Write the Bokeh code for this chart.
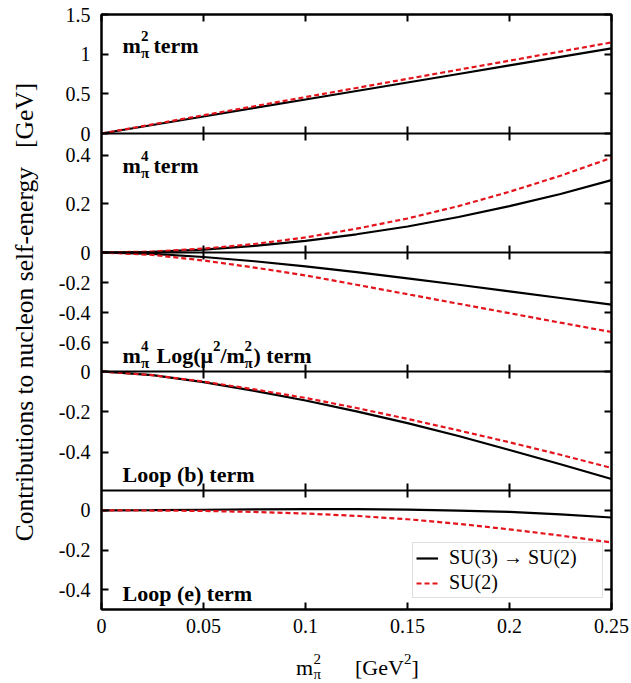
import math
from bokeh.plotting import figure
from bokeh.layouts import column
from bokeh.models import Range1d, LinearAxis, FixedTicker, Span, Label, Legend, LegendItem, Div
from bokeh.embed import file_html
from bokeh.resources import INLINE

# ---------------- data ----------------
mpi2 = [0.0, 0.025, 0.05, 0.075, 0.1, 0.125, 0.15, 0.175, 0.2, 0.225, 0.25]

m2_su3 = [0.0, 0.107, 0.214, 0.322, 0.429, 0.536, 0.643, 0.750, 0.858, 0.965, 1.072]
m2_su2 = [0.0, 0.115, 0.230, 0.344, 0.459, 0.574, 0.689, 0.804, 0.918, 1.033, 1.148]
m4_su3 = [0.0, 0.003, 0.012, 0.027, 0.048, 0.075, 0.107, 0.146, 0.191, 0.241, 0.298]
m4_su2 = [0.0, 0.004, 0.016, 0.035, 0.062, 0.098, 0.140, 0.191, 0.250, 0.316, 0.390]
m4log_su3 = [0.0, -0.009, -0.030, -0.058, -0.092, -0.130, -0.172, -0.214, -0.258, -0.302, -0.346]
m4log_su2 = [0.0, -0.016, -0.053, -0.100, -0.152, -0.214, -0.277, -0.340, -0.403, -0.466, -0.528]
loopb_su3 = [0.0, -0.018, -0.053, -0.096, -0.144, -0.198, -0.256, -0.320, -0.389, -0.460, -0.533]
loopb_su2 = [0.0, -0.018, -0.050, -0.089, -0.131, -0.181, -0.235, -0.292, -0.351, -0.413, -0.478]
loope_su3 = [0.0, 0.001, 0.003, 0.005, 0.006, 0.006, 0.004, -0.001, -0.008, -0.020, -0.036]
loope_su2 = [0.0, -0.001, -0.003, -0.008, -0.016, -0.028, -0.045, -0.068, -0.096, -0.127, -0.162]

series_labels = ["SU(3) \u2192 SU(2)", "SU(2)"]

x_ticks = [0.0, 0.05, 0.1, 0.15, 0.2, 0.25]
x_tick_labels = ["0", "0.05", "0.1", "0.15", "0.2", "0.25"]

panel_names = ["m2", "m4", "m4log", "loopb", "loope"]
panel_limits = [(0.0, 1.5), (0.0, 0.49), (-0.79, 0.0), (-0.59, 0.0), (-0.5, 0.1)]
panel_ticks = [[0.0, 0.5, 1.0, 1.5], [0.2, 0.4], [0.0, -0.2, -0.4, -0.6],
               [0.0, -0.2, -0.4], [0.0, -0.2, -0.4]]
panel_tick_labels = [["0", "0.5", "1", "1.5"], ["0.2", "0.4"], ["0", "-0.2", "-0.4", "-0.6"],
                     ["0", "-0.2", "-0.4"], ["0", "-0.2", "-0.4"]]
panel_su3 = [m2_su3, m4_su3, m4log_su3, loopb_su3, loope_su3]
panel_su2 = [m2_su2, m4_su2, m4log_su2, loopb_su2, loope_su2]

# ---------------- layout / style ----------------
W = 631
H_MAIN, H_TITLE = 646, 36
FL, FR, FT, FB = 101, 20, 14, 37
NP = len(panel_names)
FONT = "Liberation Serif"
RED = "#e3141b"

p = figure(width=W, height=H_MAIN, x_range=Range1d(0, 0.25), y_range=Range1d(0, NP),
           output_backend="svg", toolbar_location=None,
           x_axis_location=None, y_axis_location=None,
           min_border_left=FL, min_border_right=FR, min_border_top=FT, min_border_bottom=FB,
           outline_line_color="black", outline_line_width=2,
           background_fill_color="white", border_fill_color="white")
p.grid.visible = False

extra = {}
left_ticks, left_over, right_over = [], {}, {}
for k, name in enumerate(panel_names):
    lo, hi = panel_limits[k]
    span = hi - lo
    band = NP - 1 - k
    start = lo - band * span
    extra[name] = Range1d(start, start + NP * span)
    for v, lab in zip(panel_ticks[k], panel_tick_labels[k]):
        pos = round(band + (v - lo) / span, 9)
        left_ticks.append(pos)
        left_over[pos] = lab
        right_over[pos] = ""
p.extra_y_ranges = extra


def style_axis(ax):
    ax.axis_line_color = "black"
    ax.axis_line_width = 2
    ax.major_tick_line_color = "black"
    ax.major_tick_line_width = 2
    ax.major_tick_in = 7
    ax.major_tick_out = 0
    ax.minor_tick_in = 0
    ax.minor_tick_out = 0
    ax.major_label_text_font = FONT
    ax.major_label_text_font_size = "20px"
    ax.major_label_text_color = "black"
    ax.axis_label_text_color = "black"


left = LinearAxis(ticker=FixedTicker(ticks=left_ticks), major_label_overrides=left_over,
                  axis_label="Contributions to nucleon self-energy\u00a0\u00a0\u00a0[GeV]")
style_axis(left)
left.major_label_standoff = 11
left.axis_label_text_font = FONT
left.axis_label_text_font_size = "25.5px"
left.axis_label_text_font_style = "normal"
left.axis_label_standoff = 17
p.add_layout(left, "left")

right = LinearAxis(ticker=FixedTicker(ticks=left_ticks), major_label_overrides=right_over)
style_axis(right)
right.major_label_standoff = 0
p.add_layout(right, "right")

below = LinearAxis(ticker=FixedTicker(ticks=x_ticks),
                   major_label_overrides=dict(zip(x_ticks, x_tick_labels)))
style_axis(below)
below.major_label_standoff = 9
p.add_layout(below, "below")

above = LinearAxis(ticker=FixedTicker(ticks=x_ticks),
                   major_label_overrides={t: "" for t in x_ticks})
style_axis(above)
above.major_label_standoff = 0
p.add_layout(above, "above")

# ---------------- curves ----------------
legend_renderers = []
for k, name in enumerate(panel_names):
    r3 = p.line(mpi2, panel_su3[k], y_range_name=name, line_color="black", line_width=2.2)
    r2 = p.line(mpi2, panel_su2[k], y_range_name=name, line_color=RED, line_width=2.2,
                line_dash="5 3")
    legend_renderers = [r3, r2]

# panel separators with their crossing x ticks
for k, name in enumerate(panel_names[:-1]):
    lo = panel_limits[k][0]
    p.add_layout(Span(location=lo, dimension="width", y_range_name=name,
                      line_color="black", line_width=2))
    inner = x_ticks[1:-1]
    p.scatter(x=inner, y=[lo] * len(inner), y_range_name=name, marker="dash",
              angle=math.pi / 2, size=14, line_color="black", line_width=2)

# ---------------- panel labels ----------------
label_x = 0.0103
panel_label_y = [1.109, 0.358, -0.684, -0.511, -0.419]
BIG, SMALL = 22, 15
panel_pieces = [
    [("m", 0, 0, BIG), ("\u03c0", 18.5, -7, SMALL), ("2", 18.5, 10, SMALL), ("term", 31, 0, BIG)],
    [("m", 0, 0, BIG), ("\u03c0", 18.5, -7, SMALL), ("4", 18.5, 10, SMALL), ("term", 31, 0, BIG)],
    [("m", 0, 0, BIG), ("\u03c0", 18.5, -7, SMALL), ("4", 18.5, 10, SMALL),
     ("Log(\u03bc", 34, 0, BIG), ("2", 90.5, 10, SMALL), ("/m", 98, 0, BIG),
     ("\u03c0", 122, -7, SMALL), ("2", 122, 10, SMALL), (") term", 131, 0, BIG)],
    [("Loop (b) term", 0, 0, BIG)],
    [("Loop (e) term", 0, 0, BIG)],
]
for k, name in enumerate(panel_names):
    for txt, dx, dy, fs in panel_pieces[k]:
        p.add_layout(Label(x=label_x, y=panel_label_y[k], y_range_name=name, text=txt,
                           x_offset=dx, y_offset=dy, text_font=FONT,
                           text_font_size=f"{fs}px", text_font_style="bold",
                           text_color="black", text_align="left",
                           text_baseline="alphabetic"))

# ---------------- legend ----------------
legend = Legend(items=[LegendItem(label=series_labels[0], renderers=[legend_renderers[0]]),
                       LegendItem(label=series_labels[1], renderers=[legend_renderers[1]])],
                location=(311, 11), orientation="vertical",
                border_line_color="#bfbfbf", border_line_width=1,
                background_fill_color="white", background_fill_alpha=1,
                label_text_font=FONT, label_text_font_size="20px",
                label_text_color="black", label_text_line_height=1.0,
                label_standoff=11, glyph_width=22, glyph_height=20,
                label_height=20, label_width=150, spacing=2, padding=3, margin=0)
p.add_layout(legend)

# ---------------- x axis title  m_pi^2 [GeV^2]  (HTML strip below) ----------------
# (text, left px, top px, font px)
xt_pieces = [("m", 296, 11, BIG), ("\u03c0", 313.5, 21, SMALL), ("2", 313.5, 6, SMALL),
             ("[GeV", 355, 11, BIG), ("2", 404, 6, SMALL), ("]", 411.5, 11, BIG)]
spans = "".join(
    f'<span style="position:absolute;left:{x}px;top:{y}px;font-size:{fs}px;line-height:1;'
    f'white-space:nowrap;">{txt}</span>'
    for txt, x, y, fs in xt_pieces)
title_html = (f'<div style="position:relative;width:{W}px;height:{H_TITLE}px;overflow:hidden;'
              f'font-family:\'{FONT}\';color:black;">{spans}</div>')
xtitle = Div(text=title_html, width=W, height=H_TITLE, margin=0)

layout = column(p, xtitle, spacing=0)
open("out.html", "w").write(file_html(layout, INLINE))
